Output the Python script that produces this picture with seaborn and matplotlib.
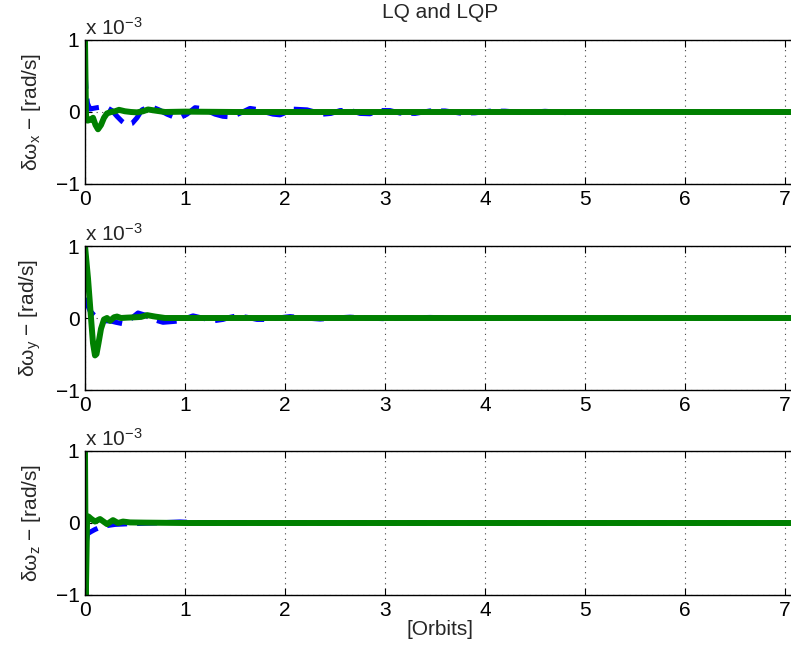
import matplotlib
matplotlib.use("Agg")
import matplotlib.pyplot as plt
import seaborn as sns
import numpy as np

# ---------------- data (values in units of 1e-3 rad/s) ----------------
tx_lq = [0, 0.01, 0.025, 0.05, 0.08, 0.12, 0.17, 0.22, 0.27, 0.32, 0.37, 0.42, 0.47,
         0.52, 0.57, 0.62, 0.67, 0.74, 0.82, 0.89, 0.95, 1.02, 1.1, 1.16, 1.22, 1.3,
         1.38, 1.43, 1.48, 1.56, 1.65, 1.72, 1.8, 1.88, 1.95, 2.02, 2.08, 2.15, 2.22,
         2.3, 2.38, 2.46, 2.55, 2.65, 2.75, 2.85, 2.95, 3.05, 3.15, 3.3, 3.45, 3.6,
         3.75, 3.9, 4.05, 4.2, 4.4, 4.6, 4.8, 5.0, 5.3, 5.6, 6.0, 6.5, 7.1]
vx_lq = [0.6, 0.3, 0.12, 0.04, 0.05, 0.06, 0.07, 0.06, 0.02, -0.06, -0.13, -0.18, -0.16,
         -0.08, 0.03, 0.06, 0.07, 0.03, -0.03, -0.07, -0.08, -0.03, 0.06, 0.05, 0.02, -0.03,
         -0.06, -0.065, -0.06, -0.01, 0.05, 0.035, 0.0, -0.03, -0.04, 0.0, 0.04, 0.035, 0.03,
         0.0, -0.03, -0.02, 0.02, 0.025, -0.02, -0.025, 0.02, 0.02, -0.015, -0.02, 0.015,
         0.015, -0.015, -0.012, 0.012, 0.012, -0.01, 0.01, -0.008, 0.008, -0.006, 0.006,
         0.004, -0.003, 0.0]
tx_lqp = [0, 0.004, 0.01, 0.025, 0.05, 0.08, 0.105, 0.13, 0.16, 0.19, 0.22, 0.26, 0.3,
          0.34, 0.4, 0.46, 0.52, 0.58, 0.63, 0.7, 0.8, 1.0, 1.5, 3.0, 5.0, 7.1]
vx_lqp = [1.0, 0.55, -0.05, -0.12, -0.11, -0.08, -0.18, -0.24, -0.18, -0.08, -0.02, 0.0,
          0.01, 0.03, 0.01, 0.0, -0.005, 0.01, 0.035, 0.02, 0.0, 0.005, 0.0, 0.0, 0.0, 0.0]

ty_lq = [0, 0.01, 0.02, 0.05, 0.09, 0.15, 0.2, 0.25, 0.31, 0.38, 0.45, 0.53, 0.6, 0.68,
         0.78, 0.87, 0.95, 1.02, 1.08, 1.17, 1.28, 1.38, 1.45, 1.52, 1.62, 1.72, 1.82,
         1.93, 2.05, 2.2, 2.35, 2.5, 2.65, 2.8, 3.0, 3.2, 3.45, 3.7, 4.0, 4.4, 4.8, 5.3,
         6.0, 7.1]
vy_lq = [0.7, 0.45, 0.2, 0.1, 0.04, -0.03, -0.04, -0.04, -0.06, -0.08, -0.02, 0.07, 0.04,
         -0.02, -0.06, -0.05, -0.04, 0.0, 0.03, 0.0, -0.04, -0.02, 0.01, 0.03, 0.01, -0.02,
         -0.02, 0.0, 0.02, 0.0, -0.015, 0.0, 0.012, 0.0, -0.01, 0.0, 0.008, 0.0, -0.006,
         0.005, -0.004, 0.003, 0.0, 0.0]
ty_lqp = [0, 0.03, 0.06, 0.08, 0.1, 0.115, 0.135, 0.16, 0.19, 0.22, 0.25, 0.29, 0.32,
          0.36, 0.42, 0.5, 0.56, 0.62, 0.7, 0.8, 1.2, 3.0, 5.0, 7.1]
vy_lqp = [1.0, 0.55, 0.0, -0.35, -0.52, -0.5, -0.35, -0.15, -0.02, 0.0, -0.04, 0.01, 0.02,
          0.0, 0.005, 0.01, 0.015, 0.04, 0.02, 0.0, 0.0, 0.0, 0.0, 0.0]

tz_lq = [0, 0.01, 0.025, 0.06, 0.1, 0.15, 0.2, 0.3, 0.45, 0.7, 0.95, 1.2, 3.0, 5.0, 7.1]
vz_lq = [0.5, -0.3, -0.15, -0.12, -0.09, -0.06, -0.04, -0.02, -0.01, 0.0, 0.015, 0.0,
         0.0, 0.0, 0.0]
tz_lqp = [0, 0.008, 0.02, 0.035, 0.06, 0.1, 0.15, 0.22, 0.28, 0.33, 0.38, 0.45, 0.6,
          1.0, 3.0, 5.0, 7.1]
vz_lqp = [1.0, -1.05, 0.0, 0.09, 0.06, 0.02, 0.055, -0.015, 0.04, 0.0, 0.02, 0.008,
          0.005, 0.0, 0.0, 0.0, 0.0]

panels = [
    ("x", tx_lq, vx_lq, tx_lqp, vx_lqp),
    ("y", ty_lq, vy_lq, ty_lqp, vy_lqp),
    ("z", tz_lq, vz_lq, tz_lqp, vz_lqp),
]
x_ticks = [0, 1, 2, 3, 4, 5, 6, 7]
y_ticks = [-1, 0, 1]
title_text = "LQ and LQP"
xlabel_text = "[Orbits]"

# ---------------- style ----------------
sns.set_theme(style="ticks")
plt.rcParams["font.family"] = ["Liberation Sans", "DejaVu Sans"]
plt.rcParams["mathtext.fontset"] = "custom"
plt.rcParams["mathtext.rm"] = "Liberation Sans"
plt.rcParams["mathtext.it"] = "Liberation Sans"
FS = 15

W, H = 791, 652
fig = plt.figure(figsize=(W / 100, H / 100), dpi=100)
left_px, width_px = 85, 710
tops = [40, 246, 451]
height_px = 144

for i, (comp, t1, v1, t2, v2) in enumerate(panels):
    top = tops[i]
    ax = fig.add_axes([left_px / W, 1 - (top + height_px) / H, width_px / W, height_px / H])
    sns.lineplot(x=t1, y=v1, ax=ax, color=(0, 0, 1), linewidth=3.6,
                 sort=False, estimator=None)
    ax.lines[-1].set_dashes([4, 2])
    sns.lineplot(x=t2, y=v2, ax=ax, color=(0, 0.5, 0), linewidth=4.3,
                 sort=False, estimator=None)
    ax.set_xlim(0, 7.1)
    ax.set_ylim(-1, 1)
    ax.set_xticks(x_ticks)
    ax.set_yticks(y_ticks)
    ax.set_yticklabels(["\u22121", "0", "1"])
    ax.tick_params(direction="in", top=True, right=True, length=5, width=0.8,
                   labelsize=FS, colors="black", pad=4)
    ax.grid(True, linestyle=(0, (1, 4)), color="#444444", linewidth=0.8)
    for s in ax.spines.values():
        s.set_linewidth(1.0)
        s.set_color("black")
    ax.set_ylabel("δω$_{\\mathregular{%s}}$ \u2212 [rad/s]" % comp, fontsize=FS, labelpad=9)
    ax.text(0.0, 1.01, "x 10$^{\\mathregular{-3}}$", transform=ax.transAxes,
            fontsize=FS, ha="left", va="bottom")
    if i == 0:
        ax.set_title(title_text, fontsize=FS, pad=16)
    if i == 2:
        ax.set_xlabel(xlabel_text, fontsize=FS, labelpad=0)

fig.savefig("out.png", dpi=100)
